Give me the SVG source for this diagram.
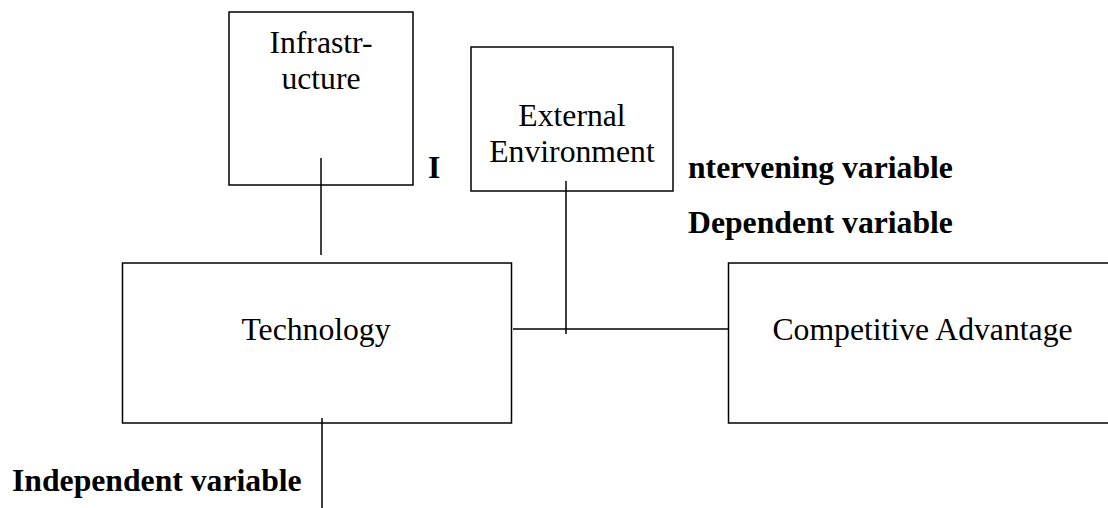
<svg xmlns="http://www.w3.org/2000/svg" width="1108" height="508" viewBox="0 0 1108 508">
<style>
.box{fill:#fff;stroke:#000;stroke-width:1.5}
.t{font-family:"Liberation Serif","Times New Roman",serif;font-size:31.7px;fill:#000;text-anchor:middle}
.b{font-family:"Liberation Serif","Times New Roman",serif;font-size:31.7px;font-weight:bold;fill:#000}
.ln{stroke:#000;stroke-width:1.5;fill:none}
</style>
<rect width="1108" height="508" fill="#fff"/>
<g id="infrastructure">
<rect class="box" x="229" y="12" width="184" height="173"/>
<text class="t" x="321" y="53">Infrastr-</text>
<text class="t" x="321" y="89">ucture</text>
</g>
<g id="external">
<rect class="box" x="471" y="47" width="202" height="144"/>
<text class="t" x="572" y="126">External</text>
<text class="t" x="572" y="162">Environment</text>
</g>
<g id="technology">
<rect class="box" x="122.5" y="263" width="389" height="160"/>
<text class="t" x="316" y="340">Technology</text>
</g>
<g id="competitive">
<rect class="box" x="728.5" y="263" width="400" height="160"/>
<text class="t" x="922.5" y="340">Competitive Advantage</text>
</g>
<g id="labels">
<text class="b" x="428" y="178">I</text>
<text class="b" x="688" y="178">ntervening variable</text>
<text class="b" x="688" y="233">Dependent variable</text>
<text class="b" x="12" y="491">Independent variable</text>
</g>
<g id="connectors">
<line class="ln" x1="321" y1="158" x2="321" y2="255"/>
<line class="ln" x1="566" y1="181" x2="566" y2="334"/>
<line class="ln" x1="513" y1="329" x2="728" y2="329"/>
<line class="ln" x1="322" y1="418" x2="322" y2="508"/>
</g>
</svg>
